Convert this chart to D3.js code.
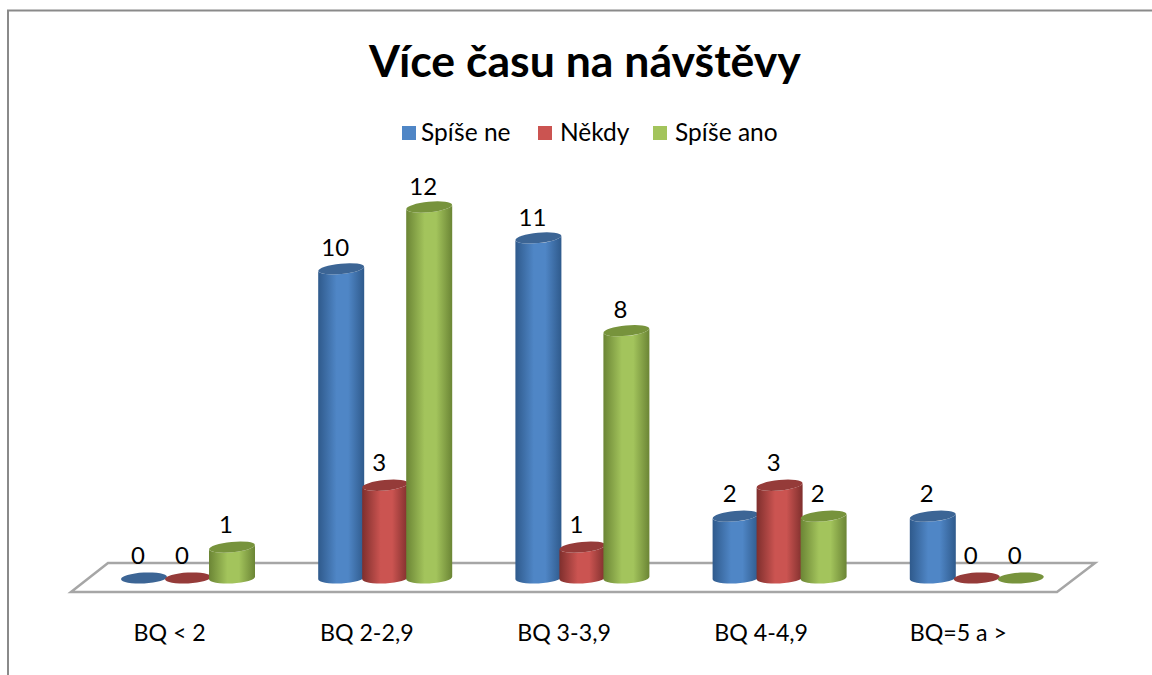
<!DOCTYPE html>
<html>
<head>
<meta charset="utf-8">
<script src="https://cdn.jsdelivr.net/npm/d3@7"></script>
<style>
  html, body { margin: 0; padding: 0; background: #fff; overflow: hidden; }
  text { font-family: Lato, "Open Sans", sans-serif; fill: #000; }
</style>
</head>
<body>
<div id="chart"></div>
<script>
var categories = ['BQ < 2', 'BQ 2-2,9', 'BQ 3-3,9', 'BQ 4-4,9', 'BQ=5 a >'];
var seriesNames = ['Spíše ne', 'Někdy', 'Spíše ano'];
var spiseNe = [0, 10, 11, 2, 2];
var nekdy = [0, 3, 1, 3, 0];
var spiseAno = [1, 12, 8, 2, 0];
var seriesValues = [spiseNe, nekdy, spiseAno];

// Layout constants
var width = 1152,
    height = 675,
    rx = 23,
    ryBase = 5.4,
    ryTop = 5.2,
    tiltBase = -3,
    tiltTop = -5.5,
    baseY = 578,
    topY = 207,
    floorBackY = 563,
    floorFrontY = 592,
    colors = [
      {edge: '#2f5a8c', mid: '#4f86c6', top: '#3c6595'},
      {edge: '#7f2f2d', mid: '#cb5451', top: '#953b39'},
      {edge: '#6b8535', mid: '#a3c45c', top: '#77933c'}
    ];

var svg = d3.select('#chart').append('svg')
            .attr('width', width)
            .attr('height', height);

var x0 = d3.scaleBand().domain(categories).range([71, 1057]).paddingInner(0).paddingOuter(0);
var x1 = d3.scaleBand().domain(d3.range(seriesNames.length)).range([51, 183]);
var y = d3.scaleLinear().domain([0, 12]).range([baseY, topY]);
// Value labels sit a little closer to the taller bars
var labelY = d3.scaleLinear().domain([0, 12]).range([563.5, 195]);

// Chart frame, only the top and left edges are visible
svg.append('path')
   .attr('d', d3.line()([[8, height], [8, 10.5], [width, 10.5]]))
   .attr('fill', 'none')
   .attr('stroke', '#8a8a8a')
   .attr('stroke-width', 2);

// Gradients
var defs = svg.append('defs');
colors.forEach(function(c, i) {
  var grad = defs.append('linearGradient')
                 .attr('id', 'cyl' + i);
  grad.append('stop').attr('offset', '0%').attr('stop-color', c.edge);
  grad.append('stop').attr('offset', '40%').attr('stop-color', c.mid);
  grad.append('stop').attr('offset', '65%').attr('stop-color', c.mid);
  grad.append('stop').attr('offset', '100%').attr('stop-color', c.edge);
});

svg.append('text')
   .attr('x', 585)
   .attr('y', 77)
   .attr('text-anchor', 'middle')
   .attr('font-size', '44.6px')
   .attr('font-weight', 'bold')
   .text('Více času na návštěvy');

// Legend
var legendX = [402, 538, 653];
var legend = svg.selectAll('.legend')
                .data(seriesNames)
                .enter().append('g')
                .attr('class', 'legend')
                .attr('transform', function(d, i) { return 'translate(' + legendX[i] + ',126)'; });

legend.append('rect')
      .attr('width', 14)
      .attr('height', 14)
      .attr('fill', function(d, i) { return colors[i].mid; });

legend.append('text')
      .attr('x', function(d, i) { return i === 0 ? 19 : 22; })
      .attr('y', 15)
      .attr('font-size', '24.5px')
      .text(function(d) { return d; });

// Floor
svg.append('path')
   .attr('d', d3.line()([[108, floorBackY], [1095, floorBackY], [1057, floorFrontY], [71, floorFrontY]]) + 'Z')
   .attr('fill', '#fff')
   .attr('stroke', '#a6a6a6')
   .attr('stroke-width', 2.5);

function cylinderBody(cx, yTop) {
  var dyBase = rx * Math.sin(tiltBase * Math.PI / 180);
  var dyTop = rx * Math.sin(tiltTop * Math.PI / 180);
  return 'M' + (cx - rx) + ',' + (yTop - dyTop) +
         'L' + (cx - rx) + ',' + (baseY - dyBase) +
         'A' + rx + ',' + ryBase + ' ' + tiltBase + ' 0 0 ' + (cx + rx) + ',' + (baseY + dyBase) +
         'L' + (cx + rx) + ',' + (yTop + dyTop) +
         'A' + rx + ',' + ryTop + ' ' + tiltTop + ' 0 1 ' + (cx - rx) + ',' + (yTop - dyTop) + 'Z';
}

var groups = svg.selectAll('.group')
                .data(categories)
                .enter().append('g')
                .attr('class', 'group')
                .attr('transform', function(d) { return 'translate(' + x0(d) + ',0)'; });

groups.each(function(cat, c) {
  var g = d3.select(this);
  seriesValues.forEach(function(values, s) {
    var v = values[c];
    var cx = x1(s) + x1.bandwidth() / 2;

    if (v > 0) {
      g.append('path')
       .attr('d', cylinderBody(cx, y(v)))
       .attr('fill', 'url(#cyl' + s + ')');
    }

    g.append('ellipse')
     .attr('rx', rx)
     .attr('ry', v > 0 ? ryTop : ryBase)
     .attr('transform', 'translate(' + cx + ',' + y(v) + ') rotate(' + (v > 0 ? tiltTop : tiltBase) + ')')
     .attr('fill', colors[s].top);

    g.append('text')
     .attr('x', cx - 6)
     .attr('y', labelY(v))
     .attr('text-anchor', 'middle')
     .attr('font-size', '24px')
     .text(v);
  });

  g.append('text')
   .attr('x', x0.bandwidth() / 2)
   .attr('y', 641)
   .attr('text-anchor', 'middle')
   .attr('font-size', '23.2px')
   .text(cat);
});
</script>
</body>
</html>
